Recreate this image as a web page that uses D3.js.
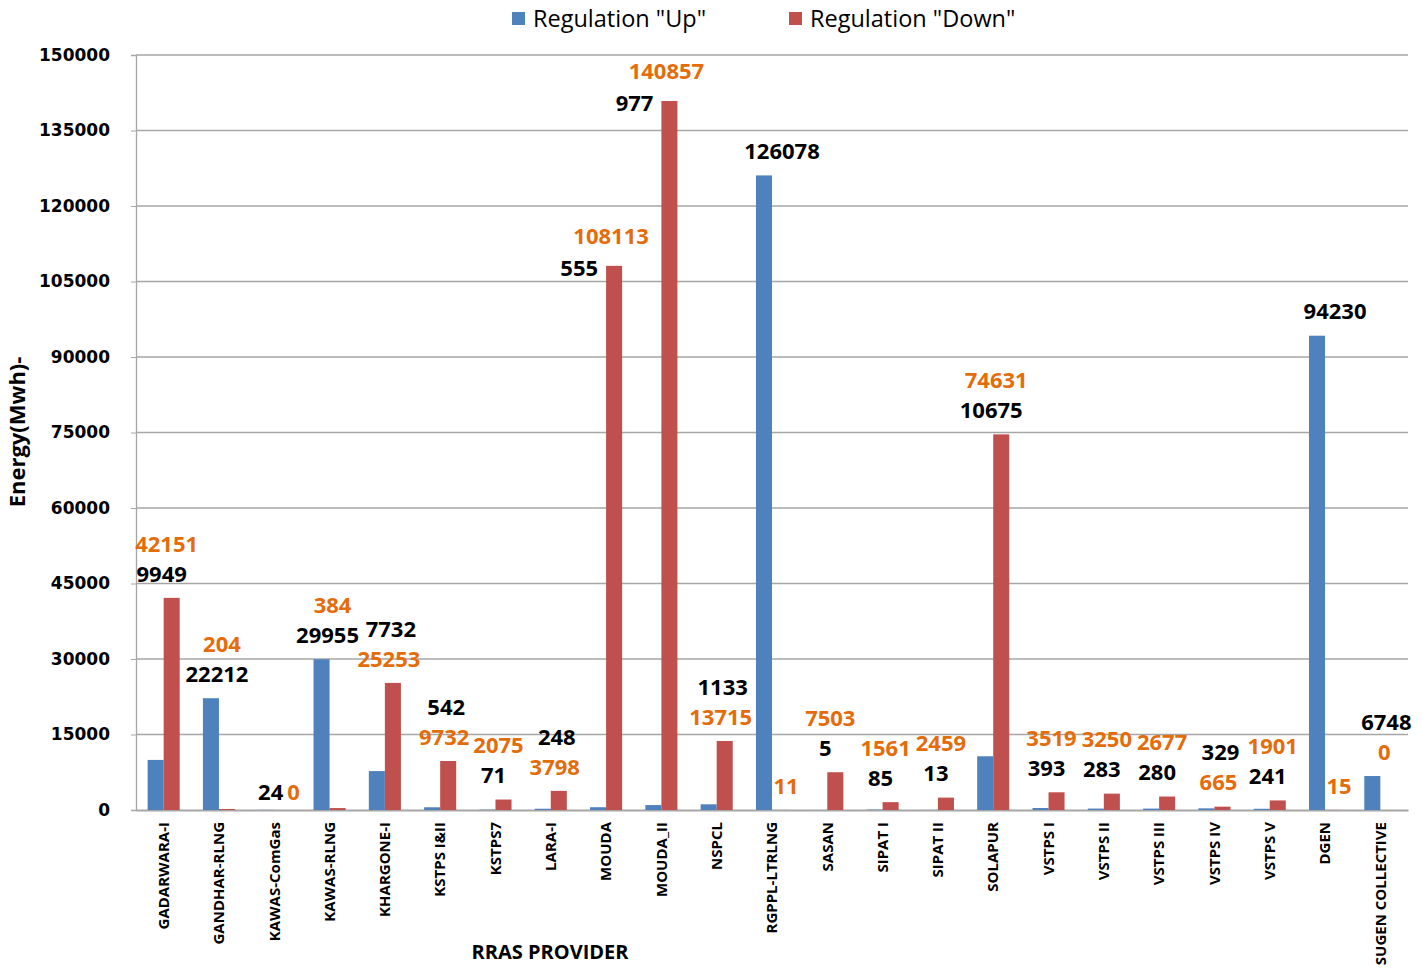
<!DOCTYPE html>
<html>
<head>
<meta charset="utf-8">
<script src="https://cdn.jsdelivr.net/npm/d3@7"></script>
<style>
  body { margin: 0; background: #fff; }
  svg { display: block; }
</style>
</head>
<body>
<svg id="chart" width="1423" height="968"></svg>
<script>
const categories = ["GADARWARA-I","GANDHAR-RLNG","KAWAS-ComGas","KAWAS-RLNG","KHARGONE-I","KSTPS I&II","KSTPS7","LARA-I","MOUDA","MOUDA_II","NSPCL","RGPPL-LTRLNG","SASAN","SIPAT I","SIPAT II","SOLAPUR","VSTPS I","VSTPS II","VSTPS III","VSTPS IV","VSTPS V","DGEN","SUGEN COLLECTIVE"];
const upValues   = [9949, 22212, 24, 29955, 7732, 542, 71, 248, 555, 977, 1133, 126078, 5, 85, 13, 10675, 393, 283, 280, 329, 241, 94230, 6748];
const downValues = [42151, 204, 0, 384, 25253, 9732, 2075, 3798, 108113, 140857, 13715, 11, 7503, 1561, 2459, 74631, 3519, 3250, 2677, 665, 1901, 15, 0];
const yTicks = [0, 15000, 30000, 45000, 60000, 75000, 90000, 105000, 120000, 135000, 150000];
const seriesNames = ['Regulation "Up"', 'Regulation "Down"'];
// how the two value labels of each group are arranged (which one sits nearer the bars)
const labelArrangement = ["up","up","side","up","down","down","up","down","leftUp","leftUp","down","baseDown","up","up","up","up","up","up","up","down","up","baseDown","down"];

(function () {
const colors = { up: "#4F81BD", down: "#C0504D" };
const labelColors = { up: "#000000", down: "#E46C0A" };

const svg = d3.select("#chart");
const plotLeft = 136, plotRight = 1408, plotTop = 55, plotBottom = 810;

const x = d3.scaleBand().domain(categories).range([plotLeft, plotRight]).paddingInner(0.42).paddingOuter(0.21);
const x1 = d3.scaleBand().domain(["up","down"]).range([0, x.bandwidth()]);
const y = d3.scaleLinear().domain([0, 150000]).range([plotBottom, plotTop]);

// gridlines
svg.append("g").selectAll("line").data(yTicks.filter(d => d > 0)).join("line")
  .attr("x1", plotLeft).attr("x2", plotRight)
  .attr("y1", d => y(d)).attr("y2", d => y(d))
  .attr("stroke", "#A6A6A6").attr("stroke-width", 1.3);

// y axis
const yAxis = d3.axisLeft(y).tickValues(yTicks).tickSize(5).tickPadding(21).tickFormat(d => d);
const gy = svg.append("g").attr("transform", `translate(${plotLeft},0)`).call(yAxis);
gy.select(".domain").attr("stroke", "#A6A6A6").attr("stroke-width", 1.3);
gy.selectAll(".tick line").attr("stroke", "#A6A6A6");
gy.selectAll("text").attr("font-family", "DejaVu Sans").attr("font-weight", "bold")
  .attr("font-size", 17).attr("fill", "#000");

// x axis
const xAxis = d3.axisBottom(x).tickSize(0).tickPadding(0);
const gx = svg.append("g").attr("transform", `translate(0,${plotBottom})`).call(xAxis);
gx.select(".domain").attr("stroke", "#A6A6A6").attr("stroke-width", 2);
gx.selectAll("text")
  .attr("font-family", "Open Sans").attr("font-weight", "bold").attr("font-size", 15)
  .attr("fill", "#000")
  .attr("text-anchor", "end")
  .attr("transform", "rotate(-90)")
  .attr("x", -12).attr("y", 0).attr("dy", "0.35em");

// bars
const rows = categories.map((c, i) => ({ c, i, up: upValues[i], down: downValues[i] }));
const groups = svg.append("g").selectAll("g").data(rows).join("g")
  .attr("transform", d => `translate(${x(d.c)},0)`);
groups.selectAll("rect").data(d => [{k:"up", v:d.up}, {k:"down", v:d.down}]).join("rect")
  .attr("x", d => x1(d.k)).attr("width", x1.bandwidth())
  .attr("y", d => y(d.v)).attr("height", d => plotBottom - y(d.v))
  .attr("fill", d => colors[d.k]);

// value labels
const near = 24, far = 54;
const lbl = svg.append("g").attr("font-family", "Open Sans").attr("font-weight", "bold").attr("font-size", 22);
rows.forEach(d => {
  const cx = x(d.c) + x.bandwidth() / 2;
  const topY = y(Math.max(d.up, d.down));
  const mode = labelArrangement[d.i];
  let pos = {};
  if (mode === "up") {
    pos.up = [cx - 2, topY - near, "middle"];
    pos.down = [cx + 3, topY - far, "middle"];
  } else if (mode === "down") {
    pos.down = [cx + 4, topY - near, "middle"];
    pos.up = [cx + 6, topY - far, "middle"];
  } else if (mode === "side") {
    pos.up = [cx + 9, topY - 18, "end"];
    pos.down = [cx + 13, topY - 18, "start"];
  } else if (mode === "leftUp") {
    pos.up = [cx - 8, topY + 2, "end"];
    pos.down = [cx + 5, topY - 30, "middle"];
  } else if (mode === "baseDown") {
    pos.up = [cx + 10, topY - near, "middle"];
    pos.down = [x(d.c) + x1("down") + x1.bandwidth() / 2 + 6, y(d.down) - 24, "middle"];
  }
  ["up", "down"].forEach(k => {
    lbl.append("text")
      .attr("x", pos[k][0]).attr("y", pos[k][1]).attr("dy", "0.35em")
      .attr("text-anchor", pos[k][2])
      .attr("fill", labelColors[k])
      .text(d[k]);
  });
});

// legend
const legend = svg.append("g").attr("font-family", "Open Sans").attr("font-size", 23.5);
const legendX = [512, 789];
seriesNames.forEach((name, i) => {
  const k = i === 0 ? "up" : "down";
  legend.append("rect").attr("x", legendX[i]).attr("y", 12).attr("width", 13).attr("height", 13).attr("fill", colors[k]);
  legend.append("text").attr("x", legendX[i] + 21).attr("y", 27).attr("fill", "#000").text(name);
});

// axis titles
svg.append("text").attr("font-family", "Open Sans").attr("font-weight", "bold").attr("font-size", 22)
  .attr("text-anchor", "middle").attr("transform", "translate(25,432) rotate(-90)")
  .attr("fill", "#000").text("Energy(Mwh)-");
svg.append("text").attr("font-family", "Open Sans").attr("font-weight", "bold").attr("font-size", 20)
  .attr("text-anchor", "middle").attr("x", 550).attr("y", 959)
  .attr("fill", "#000").text("RRAS PROVIDER");
})();
</script>
</body>
</html>
